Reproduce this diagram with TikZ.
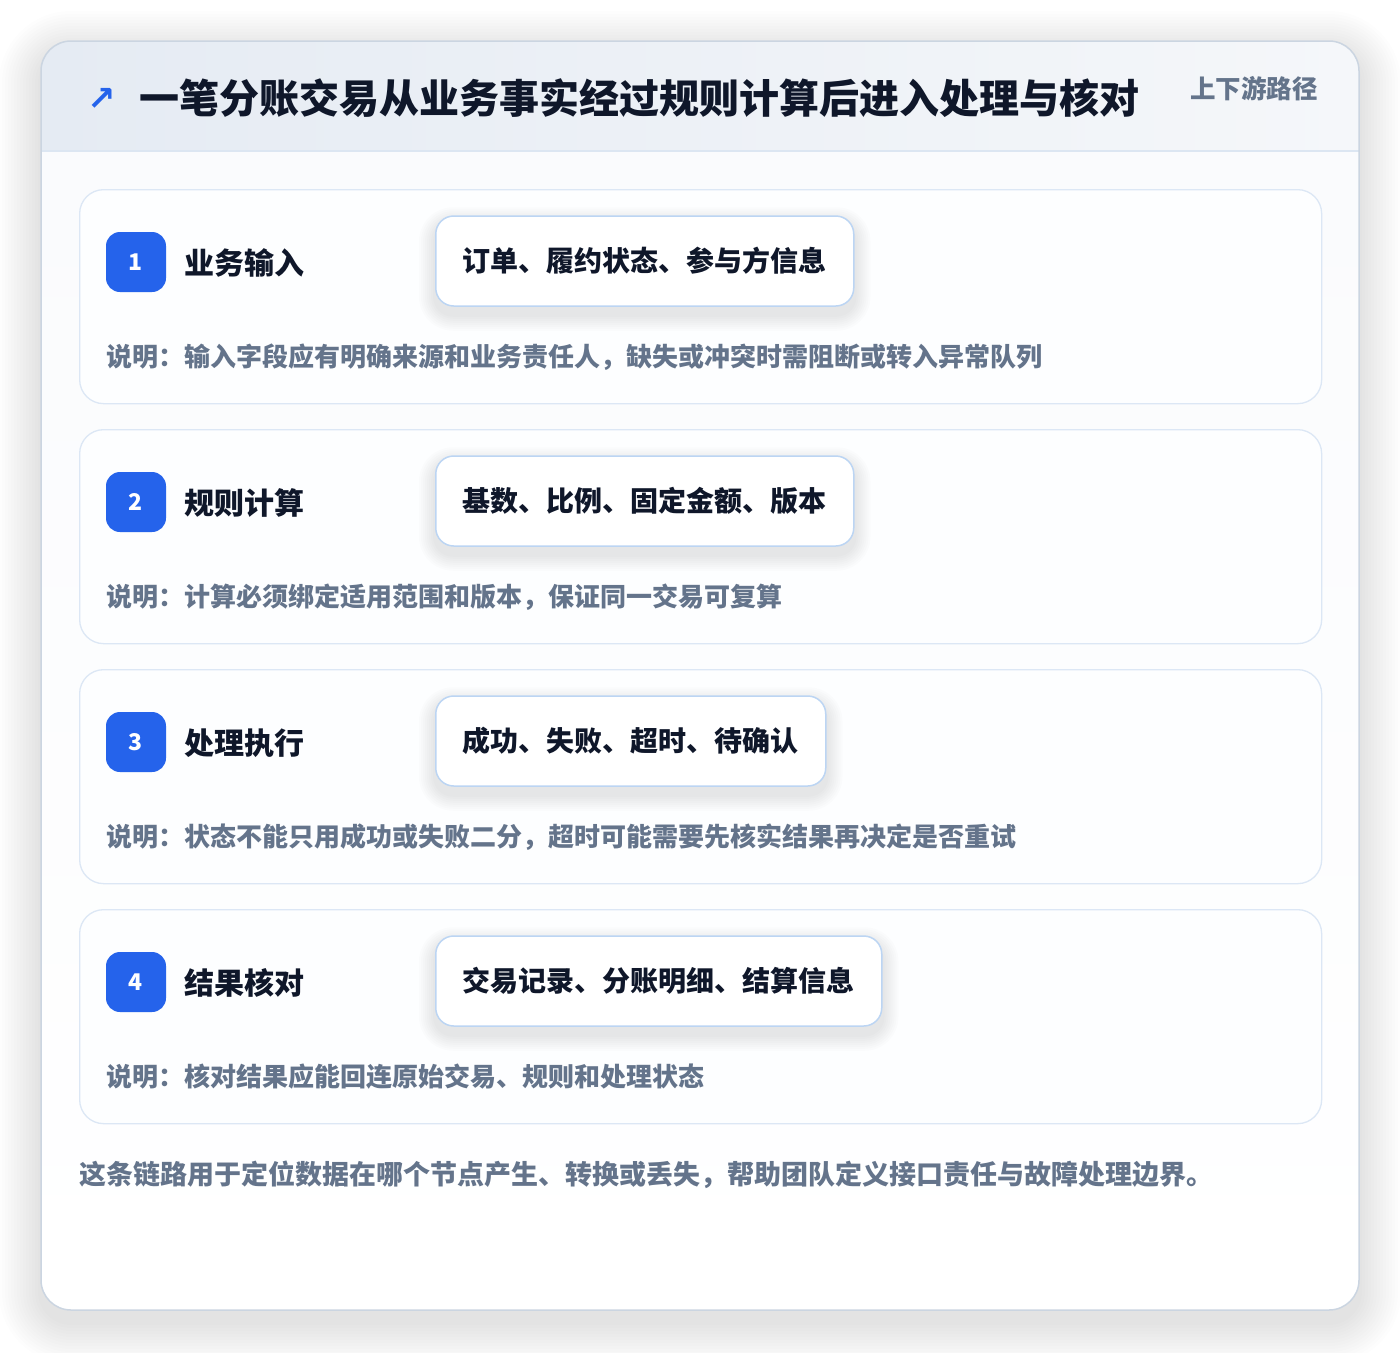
\documentclass[tikz,border=0pt]{standalone}
\usepackage{fontspec}
\setmainfont{Noto Sans CJK SC}
\newfontfamily\blackfont{Noto Sans CJK SC Black}
\newfontfamily\symfont{DejaVu Sans}
\definecolor{ink}{HTML}{0F172A}
\definecolor{muted}{HTML}{64748B}
\definecolor{brand}{HTML}{2563EB}
\definecolor{cardline}{HTML}{DCE7F5}
\definecolor{pillline}{HTML}{BCD5F3}
\definecolor{outerline}{HTML}{CBD5E1}
\definecolor{headL}{HTML}{E5EBF3}
\definecolor{headR}{HTML}{F5F7FA}
\definecolor{headline}{HTML}{DCE6F2}
\definecolor{bodyfill}{HTML}{FAFBFD}
\definecolor{cardfill}{HTML}{FDFEFF}
\pgfdeclarelayer{base}
\pgfdeclarelayer{cards}
\pgfdeclarelayer{pshadow}
\pgfsetlayers{base,cards,pshadow,main}
\tikzset{
  stepcard/.style={draw=cardline, line width=1.3pt, fill=cardfill, rounded corners=24pt,
    minimum width=1242pt, minimum height=214pt, inner sep=0pt, anchor=north west},
  badge/.style={fill=brand, rounded corners=14pt, minimum size=60pt, inner sep=0pt,
    text=white, font=\bfseries\fontsize{23}{24}\selectfont},
  steptitle/.style={anchor=west, inner sep=0pt, text=ink, font=\bfseries\fontsize{30}{34}\selectfont},
  pill/.style={anchor=west, draw=pillline, line width=1.5pt, fill=white, rounded corners=18pt,
    minimum height=90pt, inner xsep=27pt, inner ysep=0pt, text=ink,
    font=\bfseries\fontsize{28}{32}\selectfont},
  desc/.style={anchor=west, inner sep=0pt, text=muted, font=\bfseries\fontsize{26}{30}\selectfont},
  shadowlayer/.style={fill=black, opacity=#1},
}
\begin{document}
\begin{tikzpicture}[x=1pt,y=-1pt]
\useasboundingbox (0,0) rectangle (1400,1352);
\begin{pgfonlayer}{base}
\fill[white] (0,0) rectangle (1400,1352);
% soft outer shadow
\foreach \k in {1,...,14}{
  \pgfmathsetmacro{\e}{3*\k}
  \pgfmathsetmacro{\r}{30+3*\k}
  \fill[shadowlayer=0.008, rounded corners=\r pt] (41-\e,41-\e+12) rectangle (1359+\e,1310+\e+12);
}
\path[fill=white, rounded corners=30pt] (41,41) rectangle (1359,1310);
\begin{scope}
  \clip[rounded corners=30pt] (41,41) rectangle (1359,1310);
  \shade[left color=headL, right color=headR] (41,41) rectangle (1359,151);
  \shade[top color=bodyfill, bottom color=white] (41,151) rectangle (1359,1310);
\end{scope}
\draw[headline, line width=1.5pt] (41,151) -- (1359,151);
\draw[outerline, line width=1.5pt, rounded corners=30pt] (41,41) rectangle (1359,1310);
\end{pgfonlayer}
% header
\node[text=brand, inner sep=0pt, font=\symfont\bfseries\fontsize{34}{34}\selectfont] (arrowicon) at (102,99) {↗};
\node[anchor=west, inner sep=0pt, text=ink, font=\blackfont\fontsize{40}{46}\selectfont] (title) at (139,98)
  {一笔分账交易从业务事实经过规则计算后进入处理与核对};
\node[anchor=east, inner sep=0pt, text=muted, font=\bfseries\fontsize{25.5}{30}\selectfont] (subtitle) at (1318,89)
  {上下游路径};
% steps
\foreach \i/\ttl/\pl/\ds in {
  1/业务输入/订单、履约状态、参与方信息/说明：输入字段应有明确来源和业务责任人，缺失或冲突时需阻断或转入异常队列,
  2/规则计算/基数、比例、固定金额、版本/说明：计算必须绑定适用范围和版本，保证同一交易可复算,
  3/处理执行/成功、失败、超时、待确认/说明：状态不能只用成功或失败二分，超时可能需要先核实结果再决定是否重试,
  4/结果核对/交易记录、分账明细、结算信息/说明：核对结果应能回连原始交易、规则和处理状态}{
  \pgfmathsetmacro{\y}{189+240*(\i-1)}
  \begin{pgfonlayer}{cards}
    \node[stepcard] (card\i) at (79,\y) {};
  \end{pgfonlayer}
  \node[badge] (badge\i) at (136,\y+73) {\i};
  \node[steptitle] (steptitle\i) at (184,\y+74) {\ttl};
  \node[pill] (pill\i) at (435,\y+72) {\pl};
  \begin{pgfonlayer}{pshadow}
    \foreach \k in {1,...,8}{
      \pgfmathsetmacro{\e}{2*\k}
      \pgfmathsetmacro{\r}{18+2*\k}
      \fill[shadowlayer=0.01, rounded corners=\r pt]
        ([xshift=-\e pt, yshift=\e pt-8pt]pill\i.north west) rectangle ([xshift=\e pt, yshift=-\e pt-8pt]pill\i.south east);
    }
  \end{pgfonlayer}
  \node[desc] (desc\i) at (106,\y+168) {\ds};
}
% footer
\node[anchor=west, inner sep=0pt, text=muted, font=\bfseries\fontsize{27}{32}\selectfont] (footer) at (79,1175)
  {这条链路用于定位数据在哪个节点产生、转换或丢失，帮助团队定义接口责任与故障处理边界。};
\end{tikzpicture}
\end{document}
